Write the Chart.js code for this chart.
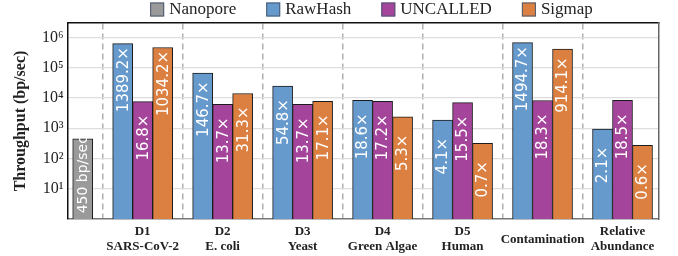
<!DOCTYPE html>
<html>
<head>
<meta charset="utf-8">
<script src="https://cdn.jsdelivr.net/npm/chart.js@4.4.1/dist/chart.umd.min.js"></script>
<style>
  body { margin: 0; background: #fff; }
</style>
</head>
<body>
<canvas id="chart" width="678" height="256"></canvas>
<script>
// groups on the x axis (Nanopore sits alone at the left)
const groupLabels = [['D1', 'SARS-CoV-2'], ['D2', 'E. coli'], ['D3', 'Yeast'], ['D4', 'Green Algae'], ['D5', 'Human'], 'Contamination', ['Relative', 'Abundance']]
const groupPos = [1, 2, 3, 4, 5, 6, 7]
const dividerPos = [0.5, 1.5, 2.5, 3.5, 4.5, 5.5, 6.5]
const nanoporePos = [0.25]

// throughput in bp/sec
const nanoporeValues = [450]
const rawhashValues = [625140, 66015, 24660, 8370, 1845, 672615, 945]
const uncalledValues = [7560, 6165, 6165, 7740, 6975, 8235, 8325]
const sigmapValues = [465390, 14085, 7695, 2385, 315, 411345, 270]

// text written inside the bars
const nanoporeLabels = ['450 bp/sec']
const rawhashLabels = ['1389.2×', '146.7×', '54.8×', '18.6×', '4.1×', '1494.7×', '2.1×']
const uncalledLabels = ['16.8×', '13.7×', '13.7×', '17.2×', '15.5×', '18.3×', '18.5×']
const sigmapLabels = ['1034.2×', '31.3×', '17.1×', '5.3×', '0.7×', '914.1×', '0.6×']

const yTicks = [10, 100, 1000, 10000, 100000, 1000000]
const sup = ['⁰', '¹', '²', '³', '⁴', '⁵', '⁶']

const barLabels = [nanoporeLabels, rawhashLabels, uncalledLabels, sigmapLabels]
const serif = 'Liberation Serif'

function points(xs, ys) {
  return xs.map((x, i) => ({ x: x, y: ys[i] }))
}

// rotated white text inside each bar
const barText = {
  id: 'barText',
  afterDatasetsDraw(chart) {
    const ctx = chart.ctx
    ctx.save()
    ctx.fillStyle = '#ffffff'
    ctx.textAlign = 'center'
    ctx.textBaseline = 'middle'
    chart.data.datasets.forEach((ds, d) => {
      chart.getDatasetMeta(d).data.forEach((bar, j) => {
        const txt = barLabels[d][j]
        const h = bar.base - bar.y
        ctx.font = '15px "DejaVu Sans"'
        let size = 15
        const w = ctx.measureText(txt).width
        if (w > h - 3) size = 15 * (h - 3) / w
        ctx.font = size + 'px "DejaVu Sans"'
        const cy = Math.min(bar.y + 36, (bar.y + bar.base) / 2)
        ctx.save()
        ctx.translate(bar.x, cy)
        ctx.rotate(-Math.PI / 2)
        ctx.fillText(txt, 0, 1)
        ctx.restore()
      })
    })
    ctx.restore()
  }
}

// one row legend above the plot
const legendRow = {
  id: 'legendRow',
  afterDraw(chart) {
    const ctx = chart.ctx
    ctx.save()
    ctx.font = '17px "' + serif + '"'
    const items = chart.data.datasets.map(ds => ({
      text: ds.label,
      color: ds.backgroundColor,
      w: 19 + ctx.measureText(ds.label).width
    }))
    const gap = 30
    let total = gap * (items.length - 1)
    items.forEach(it => total += it.w)
    let x = 371.5 - total / 2
    items.forEach(it => {
      ctx.fillStyle = it.color
      ctx.fillRect(x, 2.5, 14, 14)
      ctx.strokeStyle = '#4a5a72'
      ctx.lineWidth = 1
      ctx.strokeRect(x + 0.5, 3, 13, 13)
      ctx.fillStyle = '#222'
      ctx.textBaseline = 'middle'
      ctx.textAlign = 'left'
      ctx.fillText(it.text, x + 19, 10)
      x += it.w + gap
    })
    ctx.restore()
  }
}

const ctx = document.querySelector('#chart')
const chart = new Chart(ctx, {
  type: 'bar',
  data: {
    datasets: [
      { label: 'Nanopore', data: points(nanoporePos, nanoporeValues), backgroundColor: '#9a9a9a', grouped: false },
      { label: 'RawHash', data: points(groupPos, rawhashValues), backgroundColor: '#6699cc' },
      { label: 'UNCALLED', data: points(groupPos, uncalledValues), backgroundColor: '#a5449b' },
      { label: 'Sigmap', data: points(groupPos, sigmapValues), backgroundColor: '#dc8042' }
    ]
  },
  options: {
    responsive: false,
    animation: false,
    devicePixelRatio: 1,
    layout: { padding: { top: 23, right: 19.5, bottom: 0, left: 0 } },
    datasets: {
      bar: { barThickness: 20, borderColor: '#1c1c1c', borderWidth: 1 }
    },
    plugins: {
      legend: { display: false },
      tooltip: { enabled: false }
    },
    scales: {
      x: {
        type: 'linear',
        position: 'bottom',
        offset: false,
        min: 0.06,
        max: 7.45,
        afterBuildTicks: s => { s.ticks = groupPos.map(v => ({ value: v })) },
        afterFit: s => { s.height = 37 },
        grid: { display: false, drawTicks: false, offset: false },
        border: { color: '#777', width: 1.5 },
        ticks: {
          autoSkip: false, maxRotation: 0, minRotation: 0,
          crossAlign: 'center',
          padding: 13,
          color: '#222',
          font: { family: serif, size: 13, weight: 'bold', lineHeight: 1.15 },
          callback: (v, i) => groupLabels[i]
        }
      },
      xTop: {
        type: 'linear',
        position: 'top',
        offset: false,
        min: 0.06,
        max: 7.45,
        afterBuildTicks: s => { s.ticks = dividerPos.map(v => ({ value: v })) },
        afterFit: s => { s.height = 0 },
        grid: { color: '#b0b0b0', lineWidth: 1.5, drawTicks: false, offset: false },
        border: { color: '#111', width: 1.5, dash: [6, 4] },
        ticks: { display: false }
      },
      y: {
        type: 'logarithmic',
        min: 1,
        max: 3000000,
        afterBuildTicks: s => { s.ticks = yTicks.map(v => ({ value: v })) },
        afterFit: s => { s.width = 67.5 },
        grid: { color: '#dddddd', lineWidth: 1.2, drawTicks: false },
        border: { color: '#111', width: 1.5 },
        ticks: {
          autoSkip: false,
          padding: 4,
          color: '#222',
          font: { family: serif, size: 16 },
          callback: v => '10' + sup[Math.round(Math.log10(v))]
        },
        title: {
          display: true,
          text: 'Throughput (bp/sec)',
          color: '#222',
          font: { family: serif, size: 16, weight: 'bold' },
          padding: { top: 11, bottom: 0 }
        }
      },
      yRight: {
        type: 'logarithmic',
        position: 'right',
        min: 1,
        max: 3000000,
        afterFit: s => { s.width = 0 },
        grid: { display: false, drawTicks: false },
        border: { color: '#666', width: 1.5 },
        ticks: { display: false }
      }
    }
  },
  plugins: [barText, legendRow]
})
</script>
</body>
</html>
